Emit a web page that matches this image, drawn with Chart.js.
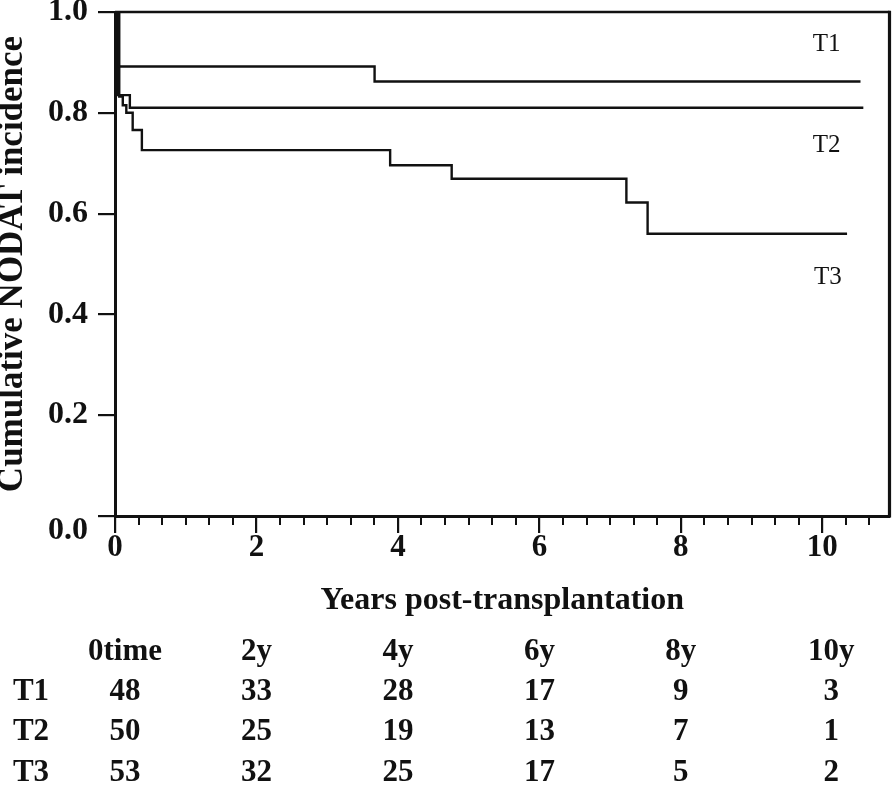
<!DOCTYPE html>
<html>
<head>
<meta charset="utf-8">
<script src="https://cdn.jsdelivr.net/npm/chart.js@4.4.1/dist/chart.umd.min.js"></script>
<style>
  html, body { margin: 0; padding: 0; background: #ffffff; }
  #wrap { width: 896px; height: 786px; position: relative; }
</style>
</head>
<body>
<div id="wrap"><canvas id="c"></canvas></div>
<script>
// ---------------- data ----------------
const t1Years  = [0, 0.05, 3.67, 10.54];
const t1Values = [1.0, 0.892, 0.862, 0.862];

const t2Years  = [0, 0.04, 0.21, 10.58];
const t2Values = [1.0, 0.835, 0.810, 0.810];

const t3Years  = [0, 0.06, 0.11, 0.16, 0.25, 0.38, 3.89, 4.76, 7.23, 7.53, 10.35];
const t3Values = [1.0, 0.832, 0.815, 0.800, 0.766, 0.726, 0.696, 0.669, 0.622, 0.560, 0.560];

const seriesNames = ['T1', 'T2', 'T3'];

const xTickValues = [0, 2, 4, 6, 8, 10];
const yTickValues = [0, 0.2, 0.4, 0.6, 0.8, 1.0];

const riskHeaders = ['0time', '2y', '4y', '6y', '8y', '10y'];
const riskTimes   = [0, 2, 4, 6, 8, 10];
const riskT1 = [48, 33, 28, 17, 9, 3];
const riskT2 = [50, 25, 19, 13, 7, 1];
const riskT3 = [53, 32, 25, 17, 5, 2];

// ---------------- layout / style constants ----------------
const INK = '#111111';
const FONT = '"Liberation Serif", "Times New Roman", serif';
const X_MAX = 10.95;
const MINOR_STEP = 1 / 3;
const MINOR_LEN = 9;
const seriesLabelAt = [ {x: 10.06, y: 0.935}, {x: 10.06, y: 0.736}, {x: 10.08, y: 0.474} ];
const tableRowOffsets = [136, 176, 216, 257];   // px below the x axis line
const tableColNudge = [10, 0, 0, 0, 0, 9];
const rowLabelX = 31;

function pts(xs, ys) { return xs.map((v, i) => ({ x: v, y: ys[i] })); }

const decor = {
  id: 'decor',
  afterDraw(chart) {
    const { ctx, chartArea: a, scales: { x, y } } = chart;
    ctx.save();
    ctx.strokeStyle = INK;
    // top frame
    ctx.lineWidth = 2.5;
    ctx.beginPath(); ctx.moveTo(a.left, a.top); ctx.lineTo(a.right, a.top); ctx.stroke();
    // right frame
    ctx.lineWidth = 3.2;
    ctx.beginPath(); ctx.moveTo(a.right, a.top - 1.2); ctx.lineTo(a.right, a.bottom + 1.5); ctx.stroke();
    // minor ticks on x axis
    ctx.lineWidth = 2;
    for (let k = 1; k * MINOR_STEP <= x.max; k++) {
      if (k % 6 === 0) continue;
      const px = Math.round(x.getPixelForValue(k * MINOR_STEP));
      ctx.beginPath(); ctx.moveTo(px, a.bottom); ctx.lineTo(px, a.bottom + MINOR_LEN); ctx.stroke();
    }
    // series labels
    ctx.fillStyle = INK;
    ctx.textAlign = 'center';
    ctx.textBaseline = 'middle';
    ctx.font = '25px ' + FONT;
    seriesNames.forEach((n, i) => {
      ctx.fillText(n, x.getPixelForValue(seriesLabelAt[i].x), y.getPixelForValue(seriesLabelAt[i].y));
    });
    // number-at-risk table
    ctx.font = 'bold 31px ' + FONT;
    const rows = [riskT1, riskT2, riskT3];
    riskTimes.forEach((t, j) => {
      const cx = x.getPixelForValue(t) + tableColNudge[j];
      ctx.fillText(riskHeaders[j], cx, a.bottom + tableRowOffsets[0]);
      rows.forEach((r, i) => ctx.fillText(String(r[j]), cx, a.bottom + tableRowOffsets[i + 1]));
    });
    seriesNames.forEach((n, i) => ctx.fillText(n, rowLabelX, a.bottom + tableRowOffsets[i + 1]));
    ctx.restore();
  }
};

const lineStyle = {
  borderColor: INK, borderWidth: 2.4, pointRadius: 0, pointHoverRadius: 0,
  fill: false, stepped: true, tension: 0, borderJoinStyle: 'miter', borderCapStyle: 'butt'
};

new Chart(document.getElementById('c'), {
  type: 'line',
  data: {
    datasets: [
      Object.assign({ label: seriesNames[0], data: pts(t1Years, t1Values) }, lineStyle),
      Object.assign({ label: seriesNames[1], data: pts(t2Years, t2Values) }, lineStyle),
      Object.assign({ label: seriesNames[2], data: pts(t3Years, t3Values) }, lineStyle)
    ]
  },
  options: {
    responsive: true,
    maintainAspectRatio: false,
    animation: false,
    events: [],
    layout: { padding: { left: 0, right: 6.5, top: 12, bottom: 160 } },
    plugins: { legend: { display: false }, tooltip: { enabled: false } },
    scales: {
      x: {
        type: 'linear', min: 0, max: X_MAX,
        afterBuildTicks: s => { s.ticks = xTickValues.map(v => ({ value: v })); },
        afterFit: s => { s.height = 110; s.paddingLeft = 0; s.paddingRight = 0; },
        border: { display: true, color: INK, width: 3 },
        grid: { display: true, drawOnChartArea: false, drawTicks: true, tickLength: 17, tickWidth: 2.2, tickColor: INK, lineWidth: 2.2, color: INK },
        ticks: {
          color: INK, padding: -1, maxRotation: 0, autoSkip: false,
          font: { family: FONT, size: 31, weight: 'bold', lineHeight: 1 },
          callback: v => String(v)
        },
        title: {
          display: true, text: 'Years post-transplantation', color: INK,
          font: { family: FONT, size: 32, weight: 'bold', lineHeight: 1.2 },
          padding: { top: 0, bottom: 6 }
        }
      },
      y: {
        type: 'linear', min: 0, max: 1,
        afterBuildTicks: s => { s.ticks = yTickValues.map(v => ({ value: v })); },
        afterFit: s => { s.width = 115; s.paddingTop = 0; s.paddingBottom = 0; },
        border: { display: true, color: INK, width: 3 },
        grid: { display: true, drawOnChartArea: false, drawTicks: true, tickLength: 17, tickWidth: 2.2, tickColor: INK, lineWidth: 2.2, color: INK },
        ticks: {
          color: INK, padding: 10, autoSkip: false,
          font: { family: FONT, size: 32, weight: 'bold', lineHeight: 0.95 },
          callback: v => (v === 0 ? ['', (0).toFixed(1)] : Number(v).toFixed(1))
        },
        title: {
          display: true, text: 'Cumulative NODAT incidence', color: INK,
          font: { family: FONT, size: 35, weight: 'bold', lineHeight: 1 },
          padding: { top: -4.5, bottom: 0 }
        }
      }
    }
  },
  plugins: [decor]
});
</script>
</body>
</html>
